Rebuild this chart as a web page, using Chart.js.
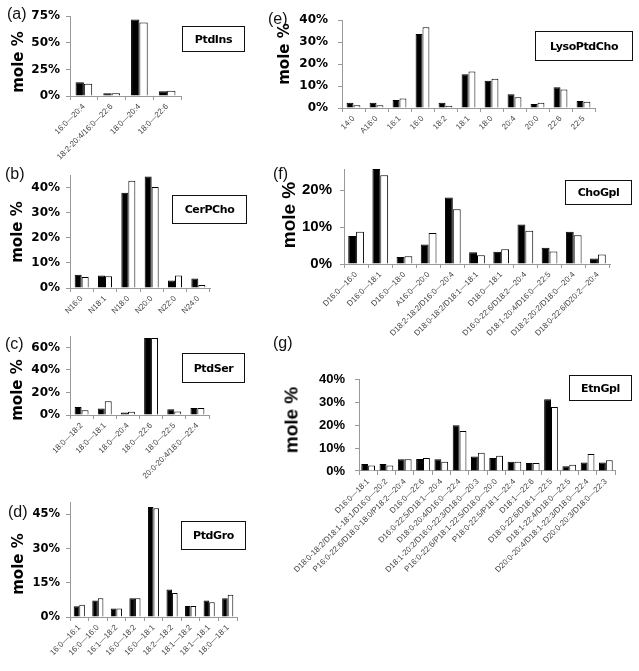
<!DOCTYPE html>
<html>
<head>
<meta charset="utf-8">
<script src="https://cdn.jsdelivr.net/npm/chart.js@4.4.0/dist/chart.umd.min.js"></script>
<style>
  body { margin: 0; background: #fff; }
  #fig { position: relative; width: 639px; height: 671px; overflow: hidden; }
  #fig canvas { position: absolute; }
  .tag { position: absolute; font-family: 'Liberation Sans', Arial, sans-serif; font-size: 16px; color: #111; line-height: 1; }
  .ytitle { position: absolute; font-weight: bold; white-space: nowrap; line-height: 1; color: #000;
            transform: translate(-50%, -50%) rotate(-90deg); }
  .box { position: absolute; box-sizing: border-box; border: 1px solid #111; display: flex; align-items: center;
         justify-content: center; font-family: 'DejaVu Sans', sans-serif; font-weight: bold; font-size: 11px;
         letter-spacing: -0.4px; color: #000; }
</style>
</head>
<body>
<div id="fig"></div>
<script>
// Chart.js Global Configuration
Chart.defaults.font.family = "'Liberation Sans', Arial, sans-serif";
Chart.defaults.color = '#444';
Chart.defaults.animation = false;

// ---- Data ----
// (a) PtdIns
const ptdInsLabels = ['16:0\u201420:4', '18:2-20:4/16:0\u201422:6', '18:0\u201420:4', '18:0\u201422:6'];
const ptdInsBlack = [13, 2.5, 72, 4.5];
const ptdInsWhite = [11.5, 2.5, 69, 5];

// (b) CerPCho
const cerPChoLabels = ['N16:0', 'N18:1', 'N18:0', 'N20:0', 'N22:0', 'N24:0'];
const cerPChoBlack = [5.3, 5, 38, 44.5, 3, 3.8];
const cerPChoWhite = [4.4, 4.7, 42.8, 40.3, 5, 1.2];

// (c) PtdSer
const ptdSerLabels = ['18:0\u201418:2', '18:0\u201418:1', '18:0\u201420:4', '18:0\u201422:6', '18:0\u201422:5', '20:0-20:4/18:0\u201422:4'];
const ptdSerBlack = [7, 5.7, 2.3, 68.5, 5, 6.3];
const ptdSerWhite = [4.3, 12.3, 2.9, 68.5, 3, 6.3];

// (d) PtdGro
const ptdGroLabels = ['16:0\u201416:1', '16:0\u201416:0', '16:1\u201418:2', '16:0\u201418:2', '16:0\u201418:1',
  '18:2\u201418:2', '18:1\u201418:2', '18:1\u201418:1', '18:0\u201418:1'];
const ptdGroBlack = [4.7, 7.2, 3.7, 8.2, 48.2, 12.1, 4.8, 7.2, 8.2];
const ptdGroWhite = [5.4, 8.2, 3.7, 8.2, 47.7, 10.5, 4.8, 6.5, 9.7];

// (e) LysoPtdCho
const lysoLabels = ['14:0', 'A16:0', '16:1', '16:0', '18:2', '18:1', '18:0', '20:4', '20:0', '22:6', '22:5'];
const lysoBlack = [2.4, 2.4, 3.6, 33.7, 2.4, 15.4, 12.4, 6.3, 1.8, 9.4, 3.2];
const lysoWhite = [1.3, 1.3, 4.3, 36.8, 1.0, 16.6, 13.3, 4.9, 2.4, 8.4, 2.8];

// (f) ChoGpl
const choGplLabels = ['D16:0\u201416:0', 'D16:0\u201418:1', 'D16:0\u201418:0', 'A16:0\u201420:0',
  'D18:2-18:2/D16:0\u201420:4', 'D18:0-18:2/D18:1\u201418:1', 'D18:0\u201418:1', 'D16:0-22:6/D18:2\u201420:4',
  'D18:1-20:4/D16:0\u201422:5', 'D18:2-20:2/D18:0\u201420:4', 'D18:0-22:6/D20:2\u201420:4'];
const choGplBlack = [7.6, 25.7, 1.9, 5.25, 18.0, 3.2, 3.3, 10.7, 4.4, 8.75, 1.5];
const choGplWhite = [8.75, 24.0, 2.1, 8.4, 14.8, 2.4, 4.0, 9.0, 3.4, 7.75, 2.6];

// (g) EtnGpl
const etnGplLabels = ['D16:0\u201418:1', 'D18:0-18:2/D18:1-18:1/D16:0\u201420:2', 'P16:0-22:6/D18:0-18:0/P18:2\u201420:4',
  'D16:0\u201422:6', 'D16:0-22:5/D18:1\u201420:4', 'D18:0-20:4/D16:0\u201422:4', 'D18:1-20:2/D16:0-22:3/D18:0\u201420:3',
  'P16:0-22:6/P18:1-22:5/D18:0\u201420:0', 'P18:0-22:5/P18:1\u201422:4', 'D18:1\u201422:6', 'D18:0-22:6/D18:1\u201422:5',
  'D18:1-22:4/D18:0\u201422:5', 'D20:0-20:4/D18:1-22:3/D18:0\u201422:4', 'D20:0-20:3/D18:0\u201422:3'];
const etnGplBlack = [3.1, 3.1, 5.1, 5.3, 5.1, 20.1, 6.4, 5.7, 4.1, 3.5, 31.5, 2.1, 3.7, 3.7];
const etnGplWhite = [2.4, 2.4, 5.1, 5.7, 4.1, 17.5, 8.0, 6.7, 4.1, 3.5, 28.1, 2.7, 7.5, 4.7];

// y-axis limits and steps per panel
const yMax = { a: 75, b: 45, c: 70, d: 50, e: 40, f: 25.7, g: 40 };
const yStep = { a: 25, b: 10, c: 20, d: 15, e: 10, f: 10, g: 10 };

// ---- Panel layout (plot area in page pixels) ----
const heavy = "'DejaVu Sans', sans-serif";
const plain = "'Liberation Sans', Arial, sans-serif";
const panels = [
  { id: 'a', name: 'PtdIns', labels: ptdInsLabels, black: ptdInsBlack, white: ptdInsWhite,
    L: 70, R: 181, T: 13, B: 96, yw: 70, xh: 80, cat: 0.6, tickFont: { family: heavy, size: 12, weight: 'bold' }, tickPad: 6,
    tag: [7, 6], title: [18, 62, heavy, 15], box: [182, 26, 63, 26] },
  { id: 'b', name: 'CerPCho', labels: cerPChoLabels, black: cerPChoBlack, white: cerPChoWhite,
    L: 70, R: 210, T: 172, B: 288, yw: 70, xh: 45, cat: 0.6, tickFont: { family: heavy, size: 12, weight: 'bold' }, tickPad: 6,
    tag: [5, 166], title: [17, 232, heavy, 15], box: [172, 195, 75, 29] },
  { id: 'c', name: 'PtdSer', labels: ptdSerLabels, black: ptdSerBlack, white: ptdSerWhite,
    L: 70, R: 209, T: 333, B: 415, yw: 70, xh: 80, cat: 0.6, tickFont: { family: heavy, size: 12, weight: 'bold' }, tickPad: 6,
    tag: [5, 336], title: [17, 390, heavy, 15], box: [182, 353, 63, 30] },
  { id: 'd', name: 'PtdGro', labels: ptdGroLabels, black: ptdGroBlack, white: ptdGroWhite,
    L: 70, R: 237, T: 500, B: 617, yw: 70, xh: 52, cat: 0.6, tickFont: { family: heavy, size: 11.5, weight: 'bold' }, tickPad: 6,
    tag: [8, 504], title: [18, 564, heavy, 15], box: [181, 521, 65, 29] },
  { id: 'e', name: 'LysoPtdCho', labels: lysoLabels, black: lysoBlack, white: lysoWhite,
    L: 342, R: 595, T: 13, B: 108, yw: 52, xh: 40, cat: 0.6, tickFont: { family: heavy, size: 12, weight: 'bold' }, tickPad: 10,
    tag: [268, 11], title: [284, 54, heavy, 15], box: [535, 31, 98, 30] },
  { id: 'f', name: 'ChoGpl', labels: choGplLabels, black: choGplBlack, white: choGplWhite,
    L: 344, R: 610, T: 162, B: 264, yw: 54, xh: 80, cat: 0.65, tickFont: { family: plain, size: 15, weight: 'bold' }, tickPad: 8,
    tag: [273, 166], title: [288, 215, plain, 19], box: [565, 180, 67, 25] },
  { id: 'g', name: 'EtnGpl', labels: etnGplLabels, black: etnGplBlack, white: etnGplWhite,
    L: 359, R: 615, T: 372, B: 471, yw: 109, xh: 120, cat: 0.75, tickFont: { family: plain, size: 13, weight: 'bold' }, tickPad: 10,
    tag: [273, 335], title: [291, 420, plain, 19], box: [569, 375, 63, 26] }
];

const fig = document.getElementById('fig');
const padTop = 10, padRight = 10;

panels.forEach(function(p) {
  // canvas sized so the chart area lands on the measured plot box
  const cx = p.L - p.yw, cy = p.T - padTop;
  const cw = p.R + padRight - cx, ch = p.B + p.xh - cy;
  const canvas = document.createElement('canvas');
  canvas.width = cw; canvas.height = ch;
  canvas.style.left = cx + 'px'; canvas.style.top = cy + 'px';
  canvas.style.width = cw + 'px'; canvas.style.height = ch + 'px';
  fig.appendChild(canvas);

  new Chart(canvas, {
    type: 'bar',
    data: {
      labels: p.labels,
      datasets: [
        { data: p.black, backgroundColor: '#000', borderColor: '#000', borderWidth: 1 },
        { data: p.white, backgroundColor: '#fff', borderColor: '#000', borderWidth: 1 }
      ]
    },
    options: {
      responsive: false,
      devicePixelRatio: 1,
      layout: { padding: { top: padTop, right: padRight, left: 0, bottom: 0 } },
      datasets: { bar: { categoryPercentage: p.cat, barPercentage: 1.0 } },
      plugins: { legend: { display: false }, tooltip: { enabled: false } },
      scales: {
        x: {
          afterFit: function(scale) { scale.height = p.xh; },
          border: { color: '#999' },
          grid: { offset: true, drawOnChartArea: false, color: '#999', tickLength: 4 },
          ticks: { autoSkip: false, maxRotation: 45, minRotation: 45, padding: 2, color: '#444', font: { size: 8 } }
        },
        y: {
          min: 0,
          max: yMax[p.id],
          afterFit: function(scale) { scale.width = p.yw; },
          border: { color: '#999' },
          grid: { drawOnChartArea: false, color: '#999', tickLength: 4 },
          ticks: {
            stepSize: yStep[p.id],
            includeBounds: false,
            padding: p.tickPad,
            color: '#000',
            font: p.tickFont,
            callback: function(value) { return value + '%'; }
          }
        }
      }
    }
  });

  // panel tag, y title and boxed lipid class name
  const tag = document.createElement('div');
  tag.className = 'tag';
  tag.textContent = '(' + p.id + ')';
  tag.style.left = p.tag[0] + 'px'; tag.style.top = p.tag[1] + 'px';
  fig.appendChild(tag);

  const yt = document.createElement('div');
  yt.className = 'ytitle';
  yt.textContent = 'mole %';
  yt.style.left = p.title[0] + 'px'; yt.style.top = p.title[1] + 'px';
  yt.style.fontFamily = p.title[2]; yt.style.fontSize = p.title[3] + 'px';
  fig.appendChild(yt);

  const box = document.createElement('div');
  box.className = 'box';
  box.textContent = p.name;
  box.style.left = p.box[0] + 'px'; box.style.top = p.box[1] + 'px';
  box.style.width = p.box[2] + 'px'; box.style.height = p.box[3] + 'px';
  fig.appendChild(box);
});
</script>
</body>
</html>
